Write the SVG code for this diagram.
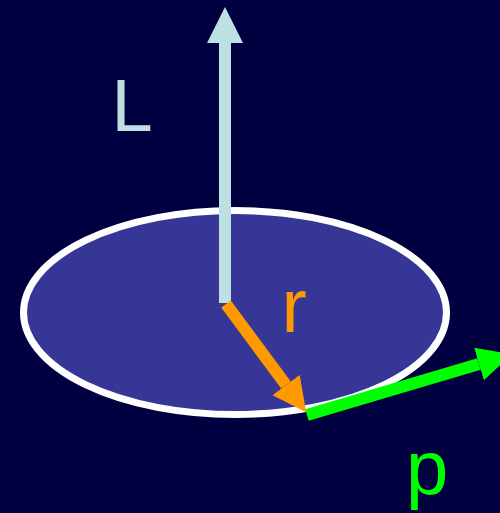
<svg xmlns="http://www.w3.org/2000/svg" width="500" height="513" viewBox="0 0 500 513">
<defs>
<style>
.lbl{font-family:"Liberation Sans",Arial,sans-serif;}
.shaft{stroke-width:12;stroke-linecap:butt;fill:none;}
</style>
<marker id="hb" viewBox="0 0 36 36" markerWidth="36" markerHeight="36" refX="0" refY="18" orient="auto" markerUnits="userSpaceOnUse"><path d="M0,0 L36,18 L0,36 Z" fill="#bde0e3"/></marker>
<marker id="ho" viewBox="0 0 34 34" markerWidth="34" markerHeight="34" refX="0" refY="17" orient="auto" markerUnits="userSpaceOnUse"><path d="M0,0 L34,17 L0,34 Z" fill="#ff9900"/></marker>
<marker id="hg" viewBox="0 0 34 34" markerWidth="34" markerHeight="34" refX="0" refY="17" orient="auto" markerUnits="userSpaceOnUse"><path d="M0,0 L34,17 L0,34 Z" fill="#00ff00"/></marker>
</defs>
<rect width="500" height="513" fill="#000040"/>
<g id="disk">
<ellipse cx="235" cy="312.5" rx="211.5" ry="102" fill="#363696" stroke="#ffffff" stroke-width="7"/>
</g>
<g id="connectors">
<line class="shaft" x1="225" y1="303" x2="225" y2="43" stroke="#bde0e3" marker-end="url(#hb)"/>
<line class="shaft" x1="226" y1="304" x2="286" y2="385" stroke="#ff9900" marker-end="url(#ho)"/>
<line class="shaft" x1="307" y1="415" x2="479" y2="364" stroke="#00ff00" marker-end="url(#hg)"/>
</g>
<g id="label-L"><text class="lbl" x="111.5" y="131" font-size="74" fill="#bde0e3">L</text></g>
<g id="label-r"><text class="lbl" x="281.5" y="332" font-size="76" fill="#ff9900">r</text></g>
<g id="label-p"><text class="lbl" x="406" y="494" font-size="76" fill="#00ff00">p</text></g>
</svg>
